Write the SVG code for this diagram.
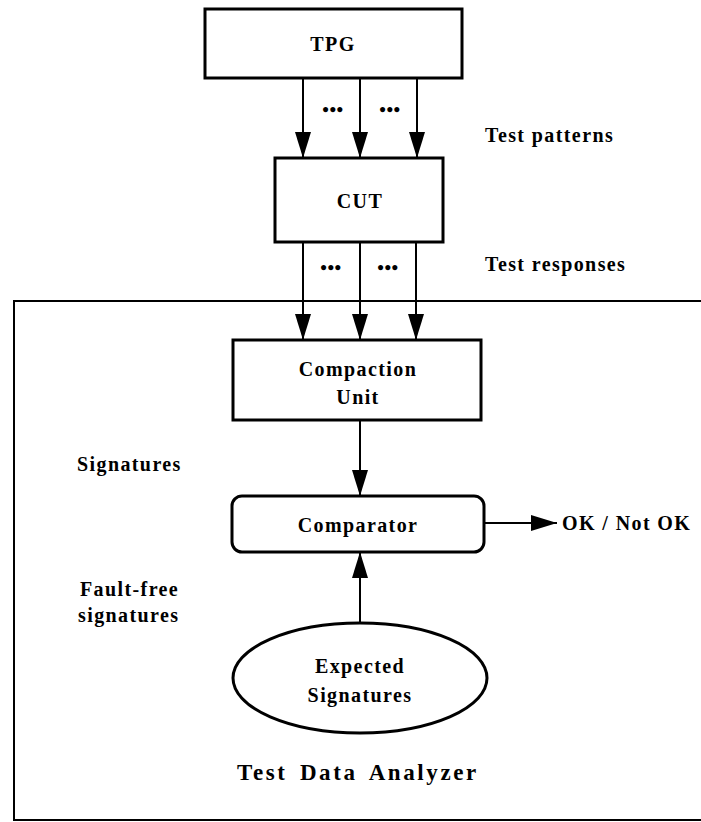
<svg xmlns="http://www.w3.org/2000/svg" width="701" height="822" viewBox="0 0 701 822">
  <style>
    .box { fill: #fff; stroke: #000; stroke-width: 3; }
    .frame { fill: none; stroke: #000; stroke-width: 2; }
    .wire { fill: none; stroke: #000; stroke-width: 2; }
    .lbl { font-family: "Liberation Serif", "Times New Roman", serif; font-weight: bold; font-size: 20px; letter-spacing: 1.4px; fill: #000; }
    .mid { text-anchor: middle; }
    .dots { font-family: "Liberation Serif", serif; font-weight: bold; font-size: 19px; letter-spacing: 0.5px; text-anchor: middle; fill: #000; }
    .title { font-family: "Liberation Serif", "Times New Roman", serif; font-weight: bold; font-size: 23px; letter-spacing: 2.6px; word-spacing: 4px; text-anchor: middle; fill: #000; }
  </style>
  <defs>
    <marker id="head" viewBox="0 0 26 16" refX="26" refY="8" markerWidth="26" markerHeight="16" markerUnits="userSpaceOnUse" orient="auto">
      <path d="M0,0 L26,8 L0,16 Z" fill="#000"/>
    </marker>
  </defs>

  <!-- analyzer enclosure: open on the right -->
  <g id="analyzer">
    <path class="frame" d="M701,301 H14 V820 H701"/>
    <text class="title" x="358" y="780">Test Data Analyzer</text>
  </g>

  <g id="tpg">
    <rect class="box" x="205" y="9" width="257" height="69"/>
    <text class="lbl mid" x="333" y="51">TPG</text>
  </g>

  <g id="cut">
    <rect class="box" x="275" y="158" width="168" height="84"/>
    <text class="lbl mid" x="360" y="208">CUT</text>
  </g>

  <g id="compaction">
    <rect class="box" x="233" y="340" width="248" height="80"/>
    <text class="lbl mid" x="358" y="376">Compaction</text>
    <text class="lbl mid" x="358" y="404">Unit</text>
  </g>

  <g id="comparator">
    <rect class="box" x="232" y="496" width="252" height="56" rx="10" ry="10"/>
    <text class="lbl mid" x="358" y="532">Comparator</text>
  </g>

  <g id="expected">
    <ellipse class="box" cx="360" cy="678" rx="127" ry="55"/>
    <text class="lbl mid" x="360" y="673">Expected</text>
    <text class="lbl mid" x="360" y="702">Signatures</text>
  </g>

  <g id="connectors">
    <!-- test patterns -->
    <line class="wire" x1="303" y1="78" x2="303" y2="158" marker-end="url(#head)"/>
    <line class="wire" x1="360" y1="78" x2="360" y2="158" marker-end="url(#head)"/>
    <line class="wire" x1="417" y1="78" x2="417" y2="158" marker-end="url(#head)"/>
    <!-- test responses -->
    <line class="wire" x1="303" y1="242" x2="303" y2="340" marker-end="url(#head)"/>
    <line class="wire" x1="360" y1="242" x2="360" y2="340" marker-end="url(#head)"/>
    <line class="wire" x1="416" y1="242" x2="416" y2="340" marker-end="url(#head)"/>
    <!-- signatures -->
    <line class="wire" x1="360" y1="420" x2="360" y2="496" marker-end="url(#head)"/>
    <!-- fault-free signatures -->
    <line class="wire" x1="360" y1="623" x2="360" y2="552" marker-end="url(#head)"/>
    <!-- verdict -->
    <line class="wire" x1="484" y1="523" x2="557" y2="523" marker-end="url(#head)"/>
  </g>

  <g id="labels">
    <text class="dots" x="333" y="116">•••</text>
    <text class="dots" x="390" y="116">•••</text>
    <text class="dots" x="331" y="274">•••</text>
    <text class="dots" x="388" y="274">•••</text>
    <text class="lbl" x="485" y="142">Test patterns</text>
    <text class="lbl" x="485" y="271">Test responses</text>
    <text class="lbl" x="77" y="471">Signatures</text>
    <text class="lbl" x="80" y="596">Fault-free</text>
    <text class="lbl" x="78" y="622">signatures</text>
    <text class="lbl" x="562" y="530">OK / Not OK</text>
  </g>
</svg>
